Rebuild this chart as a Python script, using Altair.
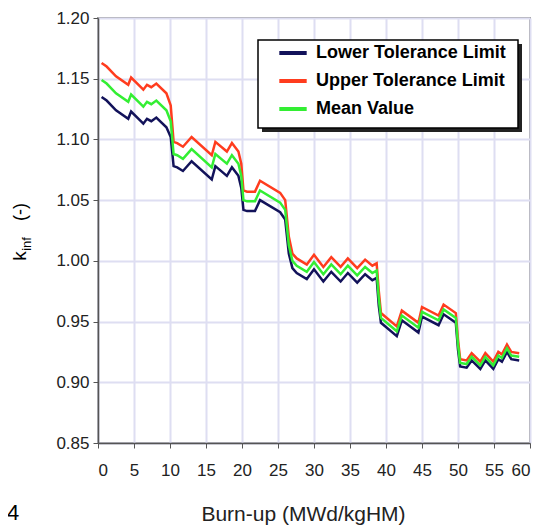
import altair as alt
import pandas as pd

burnup = [0.5, 1.2, 2.5, 4.2, 4.6, 6.3, 6.8, 7.4, 8.1, 9.5, 10.1, 10.5, 11.0, 11.8, 13.0,
          15.8, 16.3, 17.9, 18.6, 19.5, 19.9, 20.2, 20.7, 21.8, 22.5, 25.3, 26.0, 26.5,
          27.0, 27.6, 29.0, 30.0, 31.3, 32.4, 33.7, 34.7, 36.0, 37.1, 38.1, 38.7, 39.0,
          39.3, 41.5, 42.2, 44.5, 45.0, 47.3, 48.0, 49.7, 50.0, 50.3, 51.2, 51.9, 53.1,
          53.8, 54.9, 55.6, 56.1, 56.8, 57.4, 58.5]

upper = [1.163, 1.160, 1.152, 1.145, 1.151, 1.141, 1.145, 1.143, 1.146, 1.138, 1.128,
         1.098, 1.097, 1.094, 1.102, 1.087, 1.098, 1.090, 1.097, 1.090, 1.080, 1.058,
         1.057, 1.057, 1.066, 1.056, 1.050, 1.020, 1.006, 1.002, 0.997, 1.005, 0.995,
         1.003, 0.995, 1.002, 0.994, 1.001, 0.996, 0.998, 0.975, 0.957, 0.946, 0.959,
         0.949, 0.962, 0.955, 0.964, 0.957, 0.935, 0.919, 0.918, 0.924, 0.917, 0.924,
         0.917, 0.925, 0.923, 0.931, 0.925, 0.924]

mean = [1.149, 1.146, 1.138, 1.131, 1.137, 1.127, 1.131, 1.129, 1.132, 1.124, 1.115,
        1.088, 1.087, 1.084, 1.092, 1.077, 1.088, 1.080, 1.087, 1.080, 1.070, 1.050,
        1.049, 1.049, 1.058, 1.048, 1.042, 1.013, 1.000, 0.996, 0.991, 0.999, 0.989,
        0.997, 0.989, 0.996, 0.988, 0.995, 0.990, 0.992, 0.969, 0.953, 0.942, 0.955,
        0.945, 0.958, 0.951, 0.960, 0.953, 0.931, 0.916, 0.915, 0.921, 0.914, 0.921,
        0.914, 0.922, 0.920, 0.928, 0.922, 0.921]

lower = [1.135, 1.132, 1.124, 1.117, 1.123, 1.113, 1.117, 1.115, 1.118, 1.110, 1.102,
         1.078, 1.077, 1.074, 1.082, 1.067, 1.078, 1.070, 1.077, 1.070, 1.060, 1.042,
         1.041, 1.041, 1.050, 1.040, 1.034, 1.006, 0.994, 0.990, 0.985, 0.993, 0.983,
         0.991, 0.983, 0.990, 0.982, 0.989, 0.984, 0.986, 0.963, 0.949, 0.938, 0.951,
         0.941, 0.954, 0.947, 0.956, 0.949, 0.927, 0.913, 0.912, 0.918, 0.911, 0.918,
         0.911, 0.919, 0.917, 0.925, 0.919, 0.918]

series_names = ["Lower Tolerance Limit", "Upper Tolerance Limit", "Mean Value"]
series_colors = ["#12125a", "#ff3c1e", "#33ee33"]
x_ticks = [0, 5, 10, 15, 20, 25, 30, 35, 40, 45, 50, 55, 60]
y_ticks = [0.85, 0.90, 0.95, 1.00, 1.05, 1.10, 1.15, 1.20]

rows = []
for name, vals in zip(series_names, [lower, upper, mean]):
    for i, (b, v) in enumerate(zip(burnup, vals)):
        rows.append({"series": name, "burnup": b, "kinf": v, "order": i})
df = pd.DataFrame(rows)

W, H = 432, 425
FONT = "Liberation Sans"

lines = alt.Chart(df).mark_line(strokeWidth=2.5).encode(
    x=alt.X("burnup:Q",
            scale=alt.Scale(domain=[0, 60], nice=False),
            axis=alt.Axis(values=x_ticks, title="Burn-up (MWd/kgHM)", format="d",
                          labelPadding=14, titlePadding=25, titleX=205,
                          titleAlign="center", titleFontSize=21)),
    y=alt.Y("kinf:Q",
            scale=alt.Scale(domain=[0.85, 1.20], nice=False, zero=False),
            axis=alt.Axis(values=y_ticks, format=".2f", title=None, labelPadding=4)),
    color=alt.Color("series:N",
                    scale=alt.Scale(domain=series_names, range=series_colors),
                    legend=alt.Legend(title=None, orient="none", legendX=179, legendY=19,
                                      symbolType="stroke", symbolSize=750,
                                      symbolStrokeWidth=4, labelFontSize=18,
                                      labelFontWeight="bold", labelFont=FONT,
                                      labelColor="black", rowPadding=3, labelOffset=7,
                                      labelLimit=400, padding=0, zindex=3)),
    order="order:Q",
)

# legend frame with drop shadow
shadow = alt.Chart().mark_rect(fill="#222222").encode(
    x=alt.value(164), x2=alt.value(424), y=alt.value(26), y2=alt.value(114))
frame = alt.Chart().mark_rect(fill="white", stroke="black", strokeWidth=1.5).encode(
    x=alt.value(160), x2=alt.value(420), y=alt.value(22), y2=alt.value(110))

k_txt = alt.Chart().mark_text(text="k", angle=270, fontSize=19, font=FONT,
                               align="center", baseline="middle", color="black").encode(
    x=alt.value(-78), y=alt.value(238))
inf_txt = alt.Chart().mark_text(text="inf", angle=270, fontSize=13, font=FONT,
                                 align="center", baseline="middle", color="black").encode(
    x=alt.value(-71), y=alt.value(226))
unit_txt = alt.Chart().mark_text(text="(-)", angle=270, fontSize=18, font=FONT,
                                  align="center", baseline="middle", color="black").encode(
    x=alt.value(-77), y=alt.value(194))
fig_txt = alt.Chart().mark_text(text="4", fontSize=22, font=FONT, align="left",
                                 baseline="middle", color="black").encode(
    x=alt.value(-91), y=alt.value(495))

chart = alt.layer(lines, shadow, frame, k_txt, inf_txt, unit_txt, fig_txt).properties(
    width=W, height=H,
    autosize=alt.AutoSizeParams(type="none"),
    padding={"left": 90, "top": 10, "right": 8, "bottom": 85},
).configure_view(
    stroke="#999999", strokeWidth=2
).configure_axis(
    labelFont=FONT, titleFont=FONT, labelFontSize=17, titleFontSize=20,
    labelColor="#222222", titleColor="#222222", titleFontWeight="normal",
    gridColor="#dedef2", gridWidth=2, domainColor="#555555", domainWidth=1.5,
    tickColor="#555555", tickSize=5, tickWidth=1,
)

chart.save("out.html", embed_options={"renderer": "svg", "actions": False})
